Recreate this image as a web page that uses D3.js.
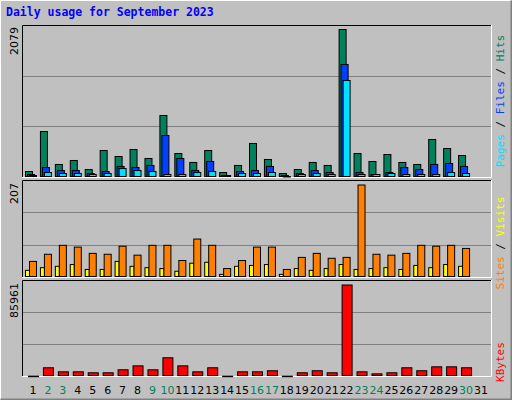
<!DOCTYPE html>
<html><head><meta charset="utf-8">
<script src="https://cdn.jsdelivr.net/npm/d3@7"></script>
<style>body{margin:0;background:#fff}</style></head>
<body><svg id="c" width="512" height="400"></svg>
<script>
const days = d3.range(1, 32);
const weekend = [2,3,9,10,16,17,23,24,30];
const hits  = [84,646,183,239,112,379,295,393,267,871,337,211,379,70,169,478,253,56,112,211,169,2079,337,225,323,211,183,534,407,309,0];
const files = [42,140,98,98,56,84,155,140,169,590,267,98,225,28,84,98,155,28,56,98,70,1588,70,42,70,140,112,183,197,155,0];
const pages = [28,70,56,56,42,56,126,98,84,42,42,70,84,28,56,56,70,14,42,56,42,1363,42,42,56,42,42,42,70,56,0];
const visits= [36,52,72,68,54,52,70,50,72,72,38,86,72,20,38,68,68,18,45,54,43,45,207,52,50,54,72,70,72,65,0];
const sites = [16,22,25,29,18,18,36,25,22,20,14,32,34,7,25,27,29,7,20,16,20,29,18,20,22,18,27,22,29,25,0];
const kbytes= [300,8200,4400,4400,3500,3500,6300,10000,6300,17600,10000,4400,8200,300,4400,4400,5400,300,3500,5400,3500,85961,4400,2500,3500,8200,5400,9100,9100,8200,0];

const svg = d3.select("#c");
svg.append("rect").attr("width",512).attr("height",400).attr("fill","#C0C0C0");
svg.append("path").attr("d","M0.5,399.5V0.5H511.5").attr("stroke","#fff").attr("fill","none");
svg.append("path").attr("d","M0.5,399.5H511.5V0.5").attr("stroke","#808080").attr("stroke-width",2).attr("fill","none");
svg.append("text").attr("x",6).attr("y",16).text("Daily usage for September 2023")
  .attr("font-family","DejaVu Sans Mono").attr("font-weight","bold").attr("font-size",11.5).attr("fill","#0000FF");

const X0 = 22, X1 = 491;
const x = d3.scaleLinear().domain([1,31]).range([33,481]);

function panel(y0, y1, max, top) {
  const g = svg.append("g");
  g.append("rect").attr("x",X0).attr("y",y0).attr("width",X1-X0).attr("height",y1-y0).attr("fill","#C0C0C0");
  const y = d3.scaleLinear().domain([0,max]).range([y1, top]);
  for (let k=1;k<=2;k++){
    const gy = Math.round(y1 - (y1-y0)*k/3)+0.5;
    g.append("line").attr("x1",X0).attr("x2",X1).attr("y1",gy).attr("y2",gy).attr("stroke","#808080");
  }
  g.append("path").attr("d",`M${X0+0.5},${y1}V${y0+0.5}H${X1}`).attr("stroke","#000").attr("fill","none");
  g.append("path").attr("d",`M${X0},${y1+0.5}H${X1+0.5}V${y0}`).attr("stroke","#fff").attr("fill","none");
  return {g,y,y1};
}
function bars(p, data, color, off, w) {
  p.g.selectAll(null).data(data.map((v,i)=>({v,d:i+1})).filter(o=>o.v>0)).enter().append("rect")
    .attr("x",o=>x(o.d)+off+0.5).attr("y",o=>p.y(o.v)+0.5)
    .attr("width",w).attr("height",o=>Math.max(0.5,p.y1-p.y(o.v)-1))
    .attr("fill",color).attr("stroke","#000");
}
function leftLabel(txt, yTop) {
  svg.append("text").attr("transform",`translate(18,${yTop}) rotate(-90)`).attr("text-anchor","end")
    .attr("font-family","DejaVu Sans").attr("font-size",11).attr("fill","#000").text(txt);
}
function rightLabel(parts, yc) {
  const t = svg.append("text").attr("transform",`translate(497,${yc}) rotate(90)`).attr("text-anchor","middle")
    .attr("font-family","DejaVu Sans Mono").attr("font-size",11);
  // reading bottom-to-top: rotate(-90) direction
  t.attr("transform",`translate(504,${yc}) rotate(-90)`);
  parts.forEach(([s,c])=>t.append("tspan").attr("fill",c).text(s));
}

const p1 = panel(25, 177, 2079, 29);
bars(p1, hits, "#00805C", -8, 7);
bars(p1, files, "#0040FF", -6, 7);
bars(p1, pages, "#00E0FF", -4, 7);
leftLabel("2079", 27);
rightLabel([["Pages","#00E0FF"],[" / ","#000"],["Files","#0040FF"],[" / ","#000"],["Hits","#00805C"]], 101);

const p2 = panel(180, 277, 207, 184.5);
bars(p2, sites, "#FFFF00", -8, 4);
bars(p2, visits, "#FF8000", -4, 7);
leftLabel("207", 183);
rightLabel([["Sites","#FF8000"],[" / ","#000"],["Visits","#FFFF00"]], 243);

const p3 = panel(280, 376, 85961, 284.5);
bars(p3, kbytes, "#FF0000", -5, 10);
leftLabel("85961", 283);
rightLabel([["KBytes","#FF0000"]], 362);

svg.selectAll(".day").data(days).enter().append("text")
  .attr("x",d=>x(d)).attr("y",394).attr("text-anchor","middle")
  .attr("font-family","DejaVu Sans").attr("font-size",11)
  .attr("fill",d=>weekend.includes(d)?"#00805C":"#000").text(d=>d);
</script></body></html>
